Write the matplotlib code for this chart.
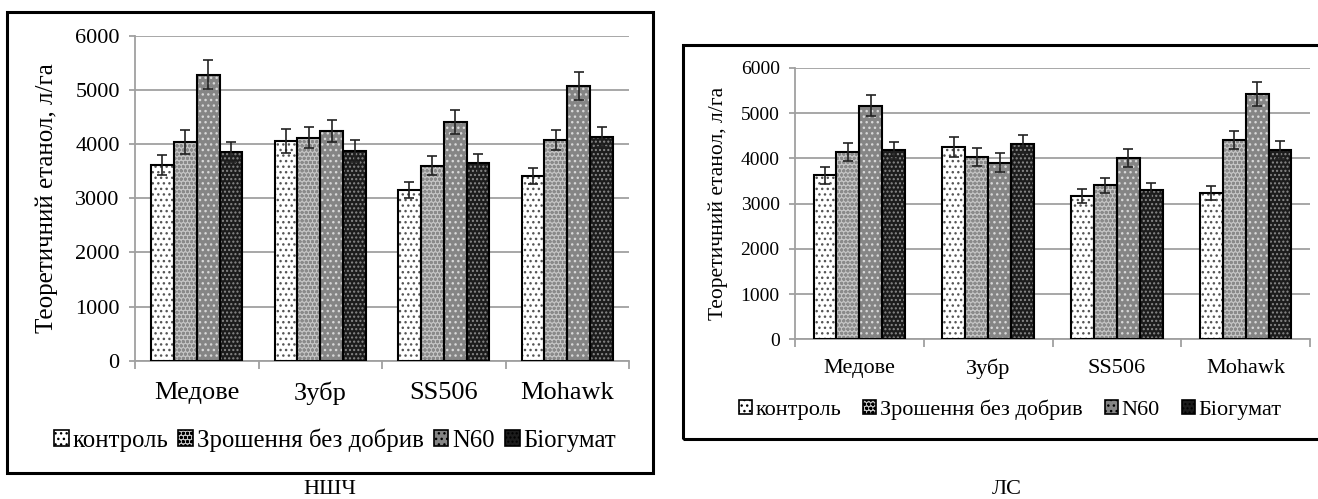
import numpy as np
import matplotlib
matplotlib.use("Agg")
import matplotlib.pyplot as plt
from matplotlib.patches import Rectangle, Patch

plt.rcParams['font.family'] = 'serif'
plt.rcParams['font.serif'] = ['Liberation Serif', 'DejaVu Serif']
plt.rcParams['hatch.linewidth'] = 1.0

# data
varieties = ['Медове', 'Зубр', 'SS506', 'Mohawk']
series = ['контроль', 'Зрошення без добрив', 'N60', 'Біогумат']

# НШЧ
nsh_control = [3610, 4060, 3150, 3420]
nsh_irrig = [4040, 4120, 3600, 4080]
nsh_n60 = [5285, 4245, 4410, 5080]
nsh_biohum = [3855, 3870, 3650, 4130]
nsh_control_err = [185, 215, 150, 150]
nsh_irrig_err = [215, 190, 175, 185]
nsh_n60_err = [270, 200, 215, 255]
nsh_biohum_err = [190, 200, 175, 180]

# ЛС
ls_control = [3625, 4258, 3177, 3234]
ls_irrig = [4148, 4037, 3411, 4404]
ls_n60 = [5170, 3905, 4015, 5419]
ls_biohum = [4177, 4324, 3300, 4192]
ls_control_err = [185, 220, 155, 155]
ls_irrig_err = [200, 200, 165, 200]
ls_n60_err = [240, 205, 200, 265]
ls_biohum_err = [190, 200, 165, 200]

# fill, hatch, hatch colour per series
styles = [('white', '...', '#555555'),
          ('#c4c4c4', 'oooo', '#8a8a8a'),
          ('#858585', '...', '#d8d8d8'),
          ('#1c1c1c', '....', '#8a8a8a')]

W, H = 1318, 499
fig = plt.figure(figsize=(W / 100, H / 100), dpi=100)


def px_axes(x0, x1, y_top, y_bot):
    return fig.add_axes([x0 / W, 1 - y_bot / H, (x1 - x0) / W, (y_bot - y_top) / H])


def draw(ax, vals, errs, barw, tick_fs, cat_fs, ylab_x, ylab_fs, cat_pad):
    x = np.arange(len(varieties))
    for i, (v, e) in enumerate(zip(vals, errs)):
        fc, hatch, hc = styles[i]
        pos = x + (i - 1.5) * barw
        ax.bar(pos, v, barw, color=fc, edgecolor=hc, hatch=hatch, linewidth=0, zorder=2)
        ax.bar(pos, v, barw, fill=False, edgecolor='black', linewidth=1.5, zorder=3)
        ax.errorbar(pos, v, yerr=e, fmt='none', ecolor='#222222', elinewidth=1.2,
                    capsize=3.6, capthick=1.2, zorder=4)
    ax.set_ylim(0, 6000)
    ax.set_xlim(-0.5, len(varieties) - 0.5)
    ax.set_yticks(np.arange(0, 6001, 1000))
    ax.yaxis.grid(True, color='#a0a0a0', linewidth=1.3)
    ax.set_axisbelow(True)
    for s in ['top', 'right']:
        ax.spines[s].set_visible(False)
    for s in ['left', 'bottom']:
        ax.spines[s].set_color('#a0a0a0')
        ax.spines[s].set_linewidth(1.3)
    ax.tick_params(axis='y', length=4, color='#a0a0a0', width=1.3, labelsize=tick_fs, pad=7)
    ax.set_xticks(np.arange(len(varieties) + 1) - 0.5)
    ax.set_xticklabels([])
    ax.tick_params(axis='x', which='major', length=6, color='#a0a0a0', width=1.3)
    ax.set_xticks(x, minor=True)
    ax.set_xticklabels(varieties, minor=True, fontsize=cat_fs)
    ax.tick_params(axis='x', which='minor', length=0, pad=cat_pad)
    ax.set_ylabel('Теоретичний етанол, л/га', fontsize=ylab_fs)
    ax.yaxis.set_label_coords(ylab_x, 0.5)


handles = [Patch(facecolor=fc, edgecolor='black', hatch=h, linewidth=1.2) for fc, h, hc in styles]

# left chart (НШЧ)
ax1 = px_axes(135, 629, 36, 360.7)
draw(ax1, [nsh_control, nsh_irrig, nsh_n60, nsh_biohum],
     [nsh_control_err, nsh_irrig_err, nsh_n60_err, nsh_biohum_err],
     0.185, 16, 19, -0.155, 18, 15)
fig.legend(handles, series, loc='center', bbox_to_anchor=(335 / W, 1 - 440 / H),
           ncol=4, frameon=False, fontsize=17.8, handlelength=0.6, handleheight=0.6,
           handletextpad=0.15, columnspacing=0.4, borderpad=0)
fig.patches.append(Rectangle((7 / W, 1 - 473 / H), 646 / W, 461 / H, fill=False,
                             edgecolor='black', linewidth=2.2, transform=fig.transFigure))
fig.text(330 / W, 1 - 490 / H, 'НШЧ', ha='center', va='center', fontsize=16)

# right chart (ЛС)
ax2 = px_axes(795, 1310, 68, 339.3)
draw(ax2, [ls_control, ls_irrig, ls_n60, ls_biohum],
     [ls_control_err, ls_irrig_err, ls_n60_err, ls_biohum_err],
     0.178, 14, 16, -0.13, 15.5, 14)
fig.legend(handles, series, loc='center', bbox_to_anchor=(1010 / W, 1 - 410 / H),
           ncol=4, frameon=False, fontsize=16, handlelength=0.6, handleheight=0.6,
           handletextpad=0.15, columnspacing=1.0, borderpad=0)
fig.patches.append(Rectangle((683 / W, 1 - 439 / H), 650 / W, 394 / H, fill=False,
                             edgecolor='black', linewidth=2.2, transform=fig.transFigure))
fig.text(1007 / W, 1 - 490 / H, 'ЛС', ha='center', va='center', fontsize=16)

fig.savefig('out.png', dpi=100)
